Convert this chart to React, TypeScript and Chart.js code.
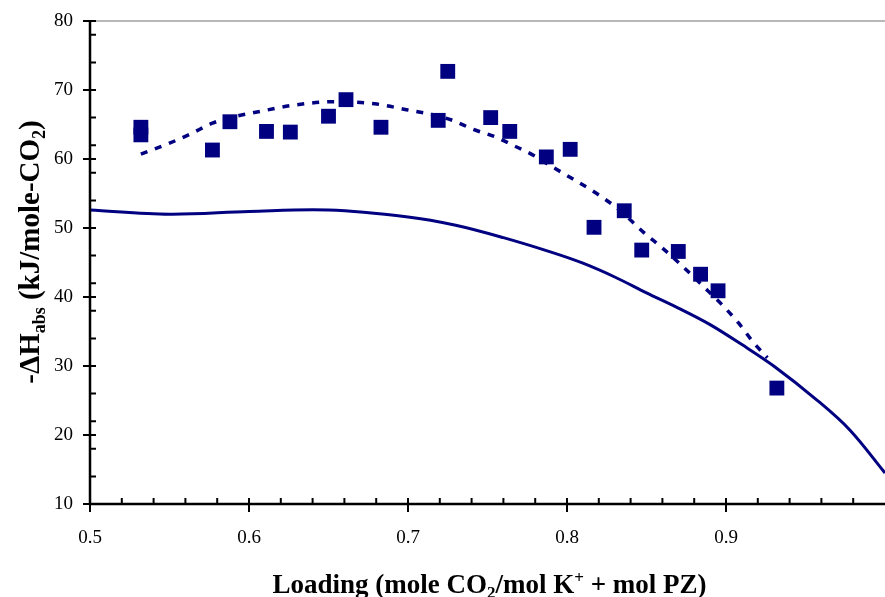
import React, { useEffect, useRef } from "react";
import { Chart, registerables } from "chart.js";

Chart.register(...registerables);

// ---- data ----
const measuredX = [0.532, 0.532, 0.577, 0.588, 0.611, 0.626, 0.650, 0.661, 0.683, 0.719, 0.725, 0.752, 0.764, 0.787, 0.802, 0.817, 0.836, 0.847, 0.870, 0.884, 0.895, 0.932];
const measuredY = [64.6, 63.5, 61.3, 65.4, 64.0, 63.9, 66.2, 68.6, 64.6, 65.6, 72.7, 66.0, 64.0, 60.3, 61.4, 50.1, 52.5, 46.8, 46.6, 43.3, 40.9, 26.8];

const fitX = [0.532, 0.549, 0.563, 0.577, 0.590, 0.605, 0.628, 0.653, 0.679, 0.700, 0.716, 0.728, 0.741, 0.755, 0.766, 0.780, 0.789, 0.803, 0.818, 0.833, 0.848, 0.860, 0.872, 0.885, 0.897, 0.908, 0.917, 0.926];
const fitY = [60.7, 62.2, 63.6, 65.2, 66.1, 66.8, 67.8, 68.3, 68.0, 67.1, 66.4, 65.6, 64.3, 63.2, 62.0, 60.4, 59.1, 57.2, 55.1, 52.6, 49.4, 47.1, 44.6, 41.7, 39.0, 36.2, 33.5, 31.2];

const modelX = [0.50, 0.55, 0.60, 0.65, 0.70, 0.73, 0.76, 0.79, 0.81, 0.83, 0.85, 0.87, 0.89, 0.91, 0.93, 0.957, 0.978, 1.00];
const modelY = [52.6, 52.0, 52.4, 52.6, 51.6, 50.4, 48.6, 46.5, 44.9, 42.9, 40.6, 38.4, 36.0, 33.1, 30.0, 25.1, 20.7, 14.5];

const xTickLabels = [0.5, 0.6, 0.7, 0.8, 0.9];
const yTickLabels = [10, 20, 30, 40, 50, 60, 70, 80];
const xMinorStep = 0.02;
const yMinorValues = [14, 18, 22, 26, 30, 34, 38, 42, 46, 50, 54, 58, 62, 66, 70, 74, 78];

const NAVY = "#000080";
const SERIF = '"Liberation Serif", "Times New Roman", serif';

type Seg = { t: string; s?: "sub" | "sup" };
const xTitle: Seg[] = [
  { t: "Loading (mole CO" }, { t: "2", s: "sub" }, { t: "/mol K" }, { t: "+", s: "sup" }, { t: " + mol PZ)" },
];
const yTitle: Seg[] = [
  { t: "-ΔH" }, { t: "abs", s: "sub" }, { t: " (kJ/mole-CO" }, { t: "2", s: "sub" }, { t: ")" },
];

function drawRich(ctx: CanvasRenderingContext2D, segs: Seg[], size: number) {
  const big = `bold ${size}px ${SERIF}`;
  const small = `bold ${Math.round(size * 0.62)}px ${SERIF}`;
  let total = 0;
  const ws = segs.map((sg) => {
    ctx.font = sg.s ? small : big;
    const w = ctx.measureText(sg.t).width;
    total += w;
    return w;
  });
  let x = -total / 2;
  ctx.textAlign = "left";
  ctx.textBaseline = "alphabetic";
  ctx.fillStyle = "#000";
  segs.forEach((sg, i) => {
    ctx.font = sg.s ? small : big;
    const dy = sg.s === "sub" ? size * 0.2 : sg.s === "sup" ? -size * 0.38 : 0;
    ctx.fillText(sg.t, x, dy);
    x += ws[i];
  });
}

const axesPlugin = {
  id: "excelAxes",
  afterDraw(chart: any) {
    const { ctx, chartArea, scales } = chart;
    const xs = scales.x;
    const ys = scales.y;
    const L = chartArea.left;
    const R = chartArea.right;
    const T = chartArea.top;
    const B = chartArea.bottom;
    ctx.save();
    ctx.strokeStyle = "#a0a0a0";
    ctx.lineWidth = 1.3;
    ctx.beginPath();
    ctx.moveTo(L, T);
    ctx.lineTo(R, T);
    ctx.stroke();
    ctx.strokeStyle = "#000";
    ctx.lineWidth = 2.5;
    ctx.beginPath();
    ctx.moveTo(L, T);
    ctx.lineTo(L, B);
    ctx.lineTo(R, B);
    ctx.stroke();
    ctx.lineWidth = 2;
    ctx.beginPath();
    yMinorValues.forEach((v) => {
      const p = ys.getPixelForValue(v);
      ctx.moveTo(L, p);
      ctx.lineTo(L + 6, p);
    });
    yTickLabels.forEach((v) => {
      const p = ys.getPixelForValue(v);
      ctx.moveTo(L - 7, p);
      ctx.lineTo(L + 6, p);
    });
    for (let v = xs.min + xMinorStep; v < xs.max - 1e-9; v += xMinorStep) {
      const p = xs.getPixelForValue(v);
      ctx.moveTo(p, B);
      ctx.lineTo(p, B - 6);
    }
    xTickLabels.forEach((v) => {
      const p = xs.getPixelForValue(v);
      ctx.moveTo(p, B + 8);
      ctx.lineTo(p, B - 6);
    });
    ctx.stroke();
    ctx.save();
    ctx.translate((L + R) / 2 + 2, 593);
    drawRich(ctx, xTitle, 27);
    ctx.restore();
    ctx.save();
    ctx.translate(39, 252);
    ctx.rotate(-Math.PI / 2);
    drawRich(ctx, yTitle, 29);
    ctx.restore();
    ctx.restore();
  },
};

export default function App() {
  const ref = useRef<HTMLCanvasElement | null>(null);
  useEffect(() => {
    document.body.style.margin = "0";
    const canvas = ref.current!;
    const chart = new Chart(canvas, {
      type: "scatter",
      data: {
        datasets: [
          {
            type: "scatter",
            label: "Measured",
            data: measuredX.map((x, i) => ({ x, y: measuredY[i] })),
            pointStyle: "rect",
            pointRadius: 10.5,
            backgroundColor: NAVY,
            borderWidth: 0,
            order: 0,
          },
          {
            type: "line",
            label: "Fit",
            data: fitX.map((x, i) => ({ x, y: fitY[i] })),
            borderColor: NAVY,
            borderWidth: 3.5,
            borderDash: [7, 8],
            pointRadius: 0,
            tension: 0.4,
            cubicInterpolationMode: "monotone",
            fill: false,
            order: 1,
          },
          {
            type: "line",
            label: "Model",
            data: modelX.map((x, i) => ({ x, y: modelY[i] })),
            borderColor: NAVY,
            borderWidth: 3,
            pointRadius: 0,
            tension: 0.35,
            fill: false,
            order: 2,
          },
        ],
      } as any,
      options: {
        responsive: false,
        animation: false,
        layout: { autoPadding: false, padding: { top: 21, left: 0, right: 0, bottom: 0 } },
        plugins: { legend: { display: false }, tooltip: { enabled: false } },
        scales: {
          x: {
            type: "linear",
            min: 0.5,
            max: 1.0,
            grid: { display: false, drawTicks: false },
            border: { display: false },
            afterBuildTicks: (s: any) => {
              s.ticks = xTickLabels.map((v) => ({ value: v }));
            },
            afterFit: (s: any) => {
              s.height = 93;
              s.paddingLeft = 0;
              s.paddingRight = 0;
            },
            ticks: {
              padding: 23,
              color: "#000",
              font: { family: SERIF, size: 19 },
              maxRotation: 0,
              callback: (v: any) => String(v),
            },
          },
          y: {
            type: "linear",
            min: 10,
            max: 80,
            grid: { display: false, drawTicks: false },
            border: { display: false },
            afterBuildTicks: (s: any) => {
              s.ticks = yTickLabels.map((v) => ({ value: v }));
            },
            afterFit: (s: any) => {
              s.width = 90;
              s.paddingTop = 0;
              s.paddingBottom = 0;
            },
            ticks: {
              padding: 17,
              color: "#000",
              font: { family: SERIF, size: 19 },
              callback: (v: any) => String(v),
            },
          },
        },
      } as any,
      plugins: [axesPlugin],
    });
    return () => chart.destroy();
  }, []);
  return (
    <div style={{ width: 885, height: 597 }}>
      <canvas ref={ref} width={885} height={597} />
    </div>
  );
}
